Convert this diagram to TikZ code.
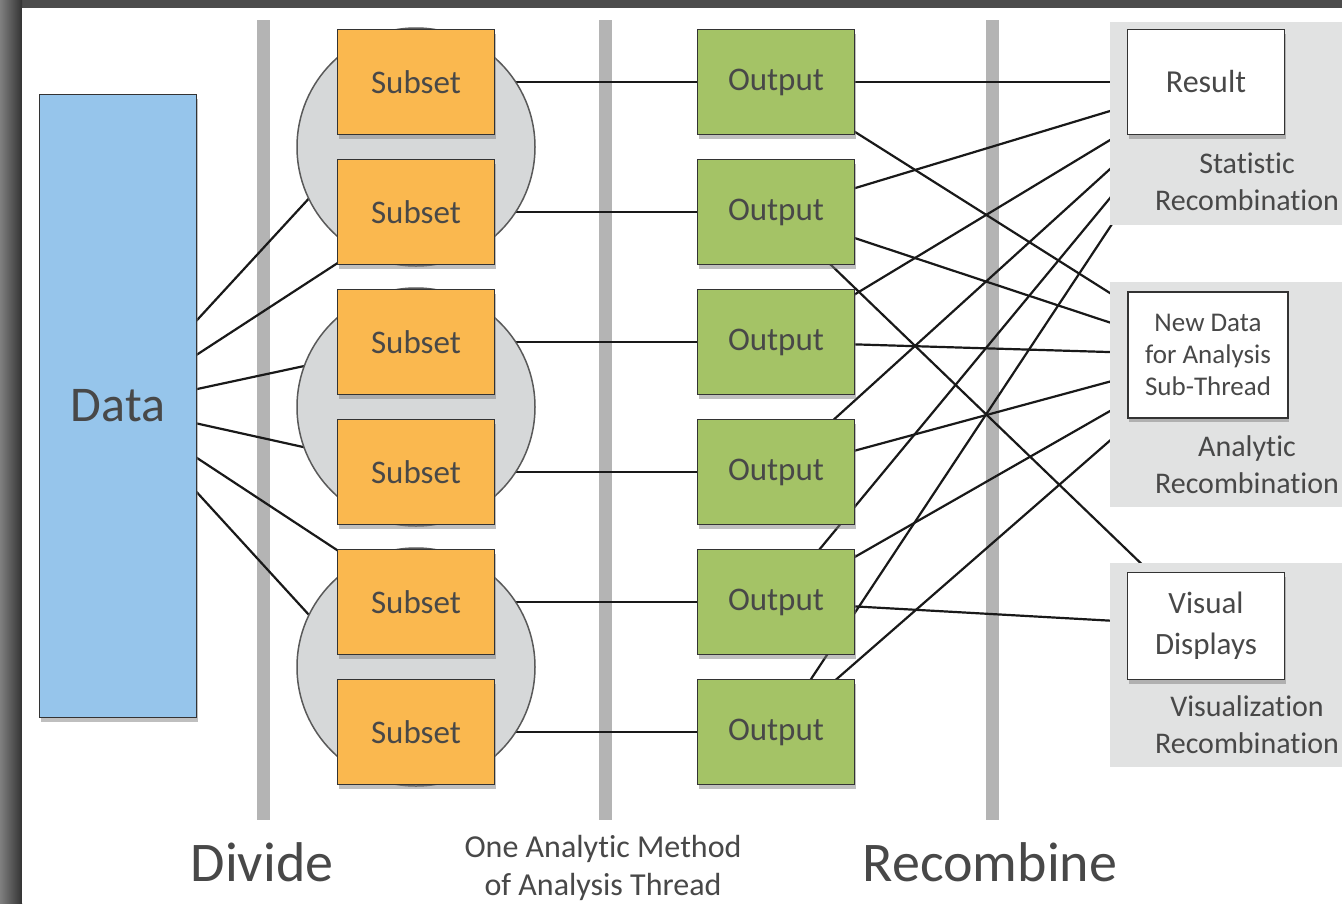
\documentclass[tikz,border=0pt]{standalone}
\usepackage{fontspec}
\setmainfont{Carlito}[Ligatures=NoCommon]
\usetikzlibrary{shadows}

\definecolor{databg}{HTML}{96C5EB}
\definecolor{subsetbg}{HTML}{FAB84F}
\definecolor{outputbg}{HTML}{A4C366}
\definecolor{barcol}{HTML}{B4B4B4}
\definecolor{ringbg}{HTML}{D6D8D9}
\definecolor{panelbg}{HTML}{E1E2E2}
\definecolor{inkgray}{HTML}{484848}

\pgfdeclarelayer{frame}
\pgfdeclarelayer{wires}
\pgfdeclarelayer{cover}
\pgfsetlayers{frame,wires,cover,main}

\tikzset{
  box/.style={draw=black!80, line width=1.5pt, inner sep=0pt,
    minimum width=157pt, minimum height=105pt, text=inkgray,
    drop shadow={shadow xshift=1pt, shadow yshift=-4pt, opacity=.5}},
  databox/.style={box, fill=databg, minimum height=623pt,
    font=\fontsize{50}{60}\selectfont},
  subsetbox/.style={box, fill=subsetbg, font=\fontsize{33}{40}\selectfont},
  outputbox/.style={box, fill=outputbg, font=\fontsize{33}{40}\selectfont},
  resultbox/.style={box, fill=white, align=center},
  ring/.style={circle, inner sep=0pt, minimum size=238pt, fill=ringbg,
    draw=black!65, line width=1.5pt},
  wire/.style={line width=2.2pt, black!90},
  bar/.style={line width=13pt, barcol},
  panellabel/.style={align=center, text=inkgray, inner sep=0pt,
    font=\fontsize{30}{37}\selectfont},
  steplabel/.style={text=inkgray, inner sep=0pt, font=\fontsize{56}{64}\selectfont},
}

\begin{document}
\begin{tikzpicture}[x=1pt, y=-1pt]
\useasboundingbox (0,0) rectangle (1342,903);

% frame and the three phase bars
\begin{pgfonlayer}{frame}
\fill[black!70] (0,0) rectangle (1342,903);
\shade[left color=black!50, right color=black!80] (0,0) rectangle (22,903);
\fill[white] (22,8) rectangle (1342,903);
\draw[bar] (263,20) -- (263,820);
\draw[bar] (605,20) -- (605,820);
\draw[bar] (992,20) -- (992,820);
\end{pgfonlayer}

% boxes
\node[databox] (data) at (118,406) {Data};

\node[subsetbox] (s1) at (416,82) {Subset};
\node[subsetbox] (s2) at (416,212) {Subset};
\node[subsetbox] (s3) at (416,342) {Subset};
\node[subsetbox] (s4) at (416,472) {Subset};
\node[subsetbox] (s5) at (416,602) {Subset};
\node[subsetbox] (s6) at (416,732) {Subset};

\node[outputbox] (o1) at (776,82) {Output};
\node[outputbox] (o2) at (776,212) {Output};
\node[outputbox] (o3) at (776,342) {Output};
\node[outputbox] (o4) at (776,472) {Output};
\node[outputbox] (o5) at (776,602) {Output};
\node[outputbox] (o6) at (776,732) {Output};

\node[resultbox, font=\fontsize{32}{38}\selectfont] (result) at (1206,82) {Result};
\node[resultbox, minimum width=160pt, minimum height=126pt,
  font=\fontsize{27}{32}\selectfont] (newdata) at (1208,355) {New Data\\for Analysis\\Sub-Thread};
\node[resultbox, minimum height=107pt,
  font=\fontsize{31}{41}\selectfont] (visual) at (1206,626) {Visual\\Displays};

% connectors, hidden under the boxes
\begin{pgfonlayer}{wires}
\foreach \s in {s1,s2,s3,s4,s5,s6}
  \draw[wire] (data.center) -- (\s.center);
\foreach \i in {1,...,6}
  \draw[wire] (s\i.center) -- (o\i.center);
\foreach \o in {o1,o2,o3,o4,o5,o6} {
  \draw[wire] (\o.center) -- (result.center);
  \draw[wire] (\o.center) -- (newdata.center);
}
\draw[wire] (o2.center) -- (visual.center);
\draw[wire] (o5.center) -- (visual.center);
\end{pgfonlayer}

% grouping rings and recombination panels
\begin{pgfonlayer}{cover}
\node[ring] (g1) at (416,147) {};
\node[ring] (g2) at (416,407) {};
\node[ring] (g3) at (416,667) {};
\fill[panelbg] (1110,22) rectangle (1342,225);
\fill[panelbg] (1110,282) rectangle (1342,507);
\fill[panelbg] (1110,563) rectangle (1342,767);
\end{pgfonlayer}

\node[panellabel] (lstat) at (1247,182) {Statistic\\Recombination};
\node[panellabel] (lana) at (1247,465) {Analytic\\Recombination};
\node[panellabel] (lvis) at (1247,725) {Visualization\\Recombination};

\node[steplabel] (ldivide) at (262,862) {Divide};
\node[panellabel, font=\fontsize{32}{38}\selectfont] (lthread) at (603,868) {One Analytic Method\\of Analysis Thread};
\node[steplabel] (lrecomb) at (990,862) {Recombine};
\end{tikzpicture}
\end{document}
